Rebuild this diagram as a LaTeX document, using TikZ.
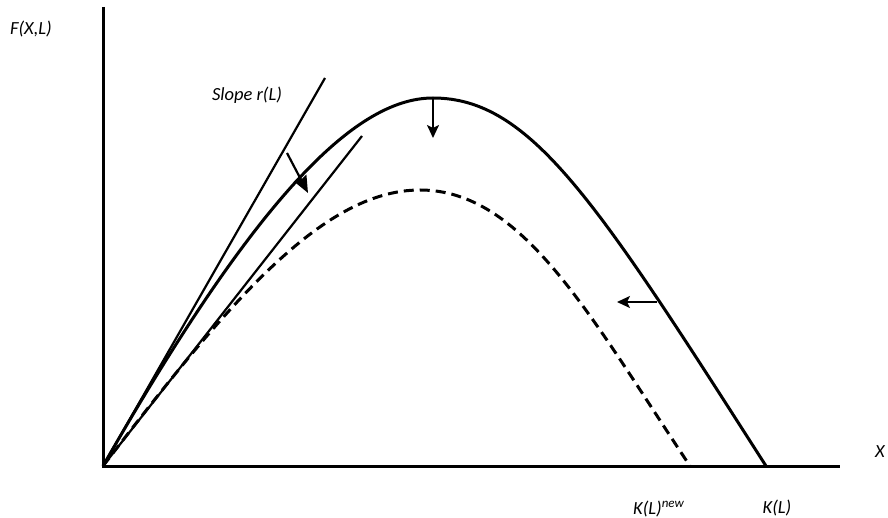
\documentclass[tikz,border=0pt]{standalone}
\usepackage{fontspec}
\setmainfont{Carlito}
\usetikzlibrary{arrows.meta}
\begin{document}
\begin{tikzpicture}[x=1pt,y=-1pt,
  lbl/.style={font=\itshape\fontsize{18.5}{22}\selectfont, inner sep=0pt},
  axis/.style={line width=3pt, line join=miter},
  curve/.style={line width=3pt},
  thinline/.style={line width=2.2pt},
  dashcurve/.style={line width=3pt, dash pattern=on 10pt off 6pt},
  shiftarrow/.style={line width=2.2pt, -{Stealth[length=13pt,width=12pt,inset=3pt]}},
  bigarrow/.style={line width=2.2pt, -{Stealth[length=17pt,width=14pt,inset=2pt]}}
]
\useasboundingbox (0,0) rectangle (888,518);
\coordinate (O) at (103,466);
\coordinate (Ytop) at (103,7);
\coordinate (Xend) at (840,466);
\coordinate (P) at (433,98);
\coordinate (K) at (766,466);
\coordinate (Q) at (420,190);
\coordinate (Kn) at (690,466);
\coordinate (T1) at (325,78);
\coordinate (T2) at (362,136);
% tangent lines
\draw[thinline] (O) -- (T1);
\draw[thinline] (O) -- (T2);
% curves
\draw[curve] (O) .. controls (253,203.5) and (353,98) .. (P)
  .. controls (531,98) and (597,202) .. (K);
\draw[dashcurve] (O) .. controls (223,310) and (320,190) .. (Q)
  .. controls (523,190) and (590,316) .. (Kn);
% axes
\draw[axis] (Ytop) -- (O) -- (Xend);
% shift arrows
\coordinate (a1s) at (433,99);
\coordinate (a1e) at (433,138);
\coordinate (a2s) at (287,153);
\coordinate (a2e) at (308,193);
\coordinate (a3s) at (657,302);
\coordinate (a3e) at (617,302);
\draw[shiftarrow] (a1s) -- (a1e);
\draw[bigarrow] (a2s) -- (a2e);
\draw[shiftarrow] (a3s) -- (a3e);
% labels
\node[lbl] (fxl) at (31,29) {F(X,L)};
\node[lbl] (slope) at (247,95) {Slope r(L)};
\node[lbl] (xl) at (880,452) {X};
\node[lbl, anchor=base west] (kn) at (633,514) {K(L)\textsuperscript{new}};
\node[lbl] (k) at (777,508) {K(L)};
\end{tikzpicture}
\end{document}
